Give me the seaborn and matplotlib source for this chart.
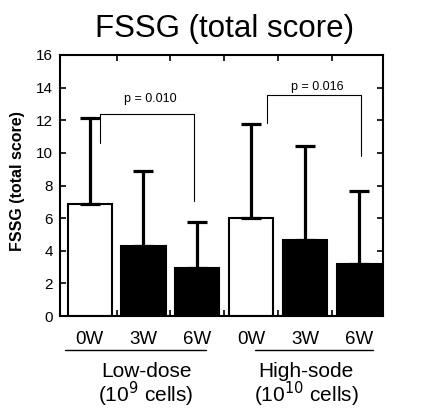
import numpy as np
import pandas as pd
import matplotlib
matplotlib.use("Agg")
import matplotlib.pyplot as plt
import matplotlib.transforms as mtransforms
import seaborn as sns

# ---- data ----
conditions = ["Low 0W", "Low 3W", "Low 6W", "High 0W", "High 3W", "High 6W"]
tick_labels = ["0W", "3W", "6W", "0W", "3W", "6W"]
fill_type = ["open", "filled", "filled", "open", "filled", "filled"]
means = [6.87, 4.29, 2.94, 6.01, 4.66, 3.19]
upper_err = [5.27, 4.60, 2.82, 5.76, 5.76, 4.47]
group_names = ["Low-dose", "High-sode"]
group_sub = ["(10$^{9}$ cells)", "(10$^{10}$ cells)"]
p_texts = ["p = 0.010", "p = 0.016"]
title = "FSSG (total score)"
ylabel = "FSSG (total score)"
yticks = [0, 2, 4, 6, 8, 10, 12, 14, 16]

df = pd.DataFrame({"cond": conditions, "mean": means, "fill": fill_type})

sns.set_style("ticks", {"text.color": "black", "axes.labelcolor": "black",
                        "xtick.color": "black", "ytick.color": "black",
                        "axes.edgecolor": "black"})
plt.rcParams["font.family"] = ["Liberation Sans", "DejaVu Sans"]

fig = plt.figure(figsize=(4.21, 4.16), dpi=100)
ax = fig.add_axes([60 / 421, 100 / 416, 323 / 421, 261 / 416])

sns.barplot(data=df, x="cond", y="mean", hue="fill", order=conditions,
            palette={"open": "white", "filled": "black"}, dodge=False,
            width=0.82, edgecolor="black", linewidth=1.5, legend=False,
            saturation=1, ax=ax, errorbar=None)

xpos = np.arange(len(conditions))
ax.errorbar(xpos, means, yerr=[np.zeros(len(means)), upper_err], fmt="none",
            ecolor="black", elinewidth=2.3, capsize=7.5, capthick=2.3, zorder=1)

ax.set_xlim(-0.55, 5.45)
ax.set_ylim(0, 16)
ax.set_yticks(yticks)
ax.set_xticks(np.arange(0.5, 5, 1.0))
ax.set_xticklabels([])
ax.set_xticks(xpos, minor=True)
ax.set_xticklabels(tick_labels, minor=True)
ax.tick_params(axis="x", which="major", direction="in", top=True, bottom=True,
               length=4, width=1.2, color="black")
ax.tick_params(axis="x", which="minor", length=0, pad=11, labelsize=13.5,
               labelcolor="black")
ax.tick_params(axis="y", direction="in", left=True, right=True, length=4,
               width=1.2, labelsize=11, pad=5, color="black", labelcolor="black")
ax.set_xlabel("")
ax.set_ylabel(ylabel, fontsize=11.5, fontweight="bold", va="center", color="black")
ax.yaxis.set_label_coords(-0.133, 0.517)
for s in ax.spines.values():
    s.set_visible(True)
    s.set_linewidth(1.5)
    s.set_color("black")

# significance brackets
def bracket(x1, x2, yh, y1, y2, txt, ty):
    ax.plot([x1, x1, x2, x2], [y1, yh, yh, y2], color="black", lw=0.8)
    ax.text((x1 + x2) / 2 + 0.06, ty, txt, ha="center", va="baseline",
            fontsize=9, color="black")

bracket(0.19, 1.94, 12.38, 10.6, 7.05, p_texts[0], 13.12)
bracket(3.295, 5.04, 13.55, 11.85, 9.8, p_texts[1], 13.86)

# group underlines and labels
trans = mtransforms.blended_transform_factory(ax.transData, ax.transAxes)
for (xa, xb), xc, name, sub in zip([(-0.457, 2.16), (3.07, 5.26)], [1.05, 4.02],
                                   group_names, group_sub):
    ax.plot([xa, xb], [-0.130, -0.130], color="black", lw=1.0,
            transform=trans, clip_on=False)
    ax.text(xc, -0.176, name + "\n" + sub, ha="center", va="top", fontsize=15,
            linespacing=0.95, multialignment="center", transform=trans,
            color="black")

ax.text(0.51, 1.069, title, ha="center", va="baseline", fontsize=22.5,
        transform=ax.transAxes, color="black")

fig.savefig("out.png", dpi=100)
